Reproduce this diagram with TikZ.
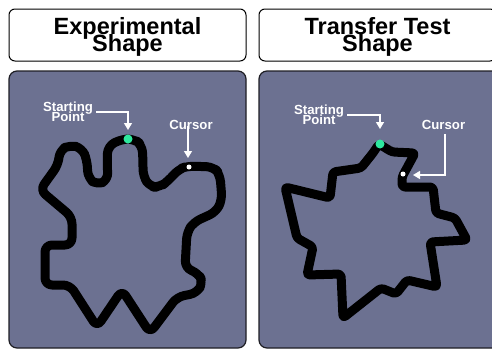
\documentclass[tikz,border=0pt]{standalone}
\usepackage{fontspec}
\setmainfont{Liberation Sans}
\usetikzlibrary{arrows.meta}
\definecolor{panelfill}{RGB}{108,113,145}
\definecolor{panelline}{RGB}{30,30,36}
\definecolor{startgreen}{RGB}{46,232,158}
% let stacked lines sit closer than their glyph boxes allow
\newcommand\tightlines{\lineskiplimit=-100pt\relax}
\tikzset{
  titlebox/.style={draw=black, line width=1pt, fill=white, rounded corners=6pt},
  panel/.style={draw=panelline, line width=1.2pt, fill=panelfill, rounded corners=8pt},
  titletext/.style={align=center, inner sep=0pt,
    font=\fontsize{23.5}{17}\selectfont\bfseries\tightlines},
  labeltext/.style={align=center, text=white, inner sep=0pt,
    font=\fontsize{13.2}{10.5}\selectfont\bfseries\tightlines},
  track/.style={draw=black, line width=9pt, line join=round, line cap=round},
  pointer/.style={draw=white, line width=1.4pt, -{Triangle[length=7pt, width=8pt]}},
  startdot/.style={circle, fill=startgreen, inner sep=0pt, minimum size=9pt},
  cursordot/.style={circle, fill=white, inner sep=0pt, minimum size=5pt},
}
\begin{document}
\begin{tikzpicture}[x=1pt, y=-1pt]
\useasboundingbox (0,0) rectangle (492,348);

% title boxes
\draw[titlebox] (9,9) rectangle (246,61);
\draw[titlebox] (259,9) rectangle (496,61);
\node[titletext] (t1) at (127.5,37) {Experimental\\Shape};
\node[titletext] (t2) at (377.5,37) {Transfer Test\\Shape};

% panels
\draw[panel] (9,71) rectangle (246,348);
\draw[panel] (259,71) rectangle (500,348);

% experimental track
\draw[track, rounded corners=7pt]
  (122,139) -- (134,139) -- (142,145) -- (143,160) -- (143,176) -- (150,187)
  -- (160,187) -- (168,181) -- (179,169) -- (188,166) -- (214,167)
  -- (220,175) -- (222,200) -- (216,212) -- (194,222) -- (187,232)
  -- (185,268) -- (198,273) -- (203,282) -- (197,293) -- (177,297)
  -- (150,333) -- (122,290) -- (97,327) -- (70,285) -- (45,285)
  -- (45,245) -- (72,245) -- (72,217) -- (40,190) -- (58,165)
  -- (60,150) -- (70,145) -- (82,148) -- (87,160) -- (88,178)
  -- (97,185) -- (108,180) -- (107,160) -- (108,146) -- cycle;

% transfer test track
\draw[track, rounded corners=3pt]
  (379,144) -- (392,152) -- (415,153) -- (402,177) -- (402,187)
  -- (433,187) -- (436,213) -- (455,218) -- (467,240) -- (430,242)
  -- (437,287) -- (407,280) -- (396,294) -- (381,288) -- (343,318)
  -- (341,274) -- (307,275) -- (313,247) -- (297,238) -- (285,187)
  -- (330,198) -- (333,172) -- (361,168) -- (373,153) -- cycle;

% markers
\node[startdot] (s1) at (128,139) {};
\node[cursordot] (c1) at (189,167) {};
\node[startdot] (s2) at (380,144) {};
\node[cursordot] (c2) at (403,174) {};

% labels
\node[labeltext] (sl1) at (68,112) {Starting\\Point};
\node[labeltext] (cl1) at (191,125) {Cursor};
\node[labeltext] (sl2) at (319,115) {Starting\\Point};
\node[labeltext] (cl2) at (443.5,125) {Cursor};

\coordinate (a1) at (128,130);
\coordinate (a2) at (188,158);
\coordinate (a3) at (380,129);
\coordinate (a4) at (413,175);

\draw[pointer] ([xshift=3pt]sl1.east) -| (a1);
\draw[pointer] (cl1.south -| a2) ++(0,-4) -- (a2);
\draw[pointer] ([xshift=3pt]sl2.east) -| (a3);
\draw[pointer] ([yshift=-4pt]cl2.south -| 445,0) |- (a4);
\end{tikzpicture}
\end{document}
